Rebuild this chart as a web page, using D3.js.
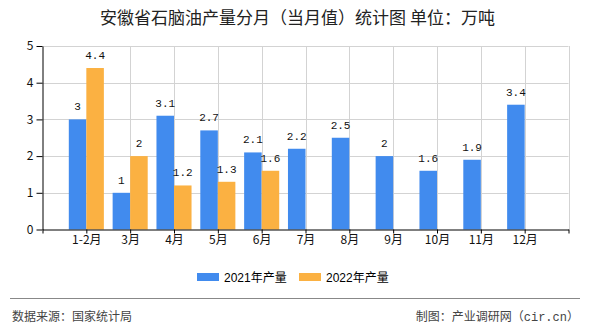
<!DOCTYPE html>
<html><head><meta charset="utf-8">
<script src="https://cdn.jsdelivr.net/npm/d3@7"></script>
<style>
body{margin:0;background:#fff;}
svg{display:block;}
</style></head>
<body>
<svg id="c" width="590" height="330"></svg>
<script>
const title = "安徽省石脑油产量分月（当月值）统计图 单位：万吨";
const categories = ["1-2月","3月","4月","5月","6月","7月","8月","9月","10月","11月","12月"];
const values2021 = [3,1,3.1,2.7,2.1,2.2,2.5,2,1.6,1.9,3.4];
const values2022 = [4.4,2,1.2,1.3,1.6];
const yTicks = [0,1,2,3,4,5];
const seriesNames = ["2021年产量","2022年产量"];
const seriesColors = ["#418bee","#fbb142"];
const sourceText = "数据来源：国家统计局";
const creditParts = ["制图：产业调研网（", "cir.cn", "）"];

(function(){
const svg = d3.select("#c");
const pl = 42.5, pr = 568.5, pt = 46, pb = 229.5;
const x = d3.scaleLinear().domain([0, categories.length + 1]).range([pl, pr]);
const y = d3.scaleLinear().domain([0, 5]).range([pb, pt]);
const bw = (x(1) - x(0)) * 0.4;
const monoFont = "'Liberation Mono','DejaVu Sans Mono',monospace";
const cjkFont = "'Noto Sans CJK SC','Noto Sans',sans-serif";

svg.append("text").attr("x", 297.5).attr("y", 23.5).attr("text-anchor","middle")
  .attr("font-family", cjkFont).attr("font-size", 17).attr("fill","#222").text(title);

// grid
const g = svg.append("g");
g.selectAll("line.h").data(yTicks.filter(v => v > 0)).join("line")
  .attr("x1", pl).attr("x2", pr).attr("y1", d => Math.round(y(d))+0.5).attr("y2", d => Math.round(y(d))+0.5)
  .attr("stroke","#d3d3d3").attr("stroke-width",1);
g.selectAll("line.v").data(d3.range(2, categories.length + 2)).join("line")
  .attr("x1", d => Math.round(x(d))+0.5).attr("x2", d => Math.round(x(d))+0.5).attr("y1", pt).attr("y2", pb)
  .attr("stroke","#d3d3d3").attr("stroke-width",1);

// bars
const bars = svg.append("g");
bars.selectAll("rect.a").data(values2021).join("rect")
  .attr("x", (d,i) => x(i+1) - bw).attr("width", bw)
  .attr("y", d => y(d)).attr("height", d => y(0) - y(d)).attr("fill", seriesColors[0]);
bars.selectAll("rect.b").data(values2022).join("rect")
  .attr("x", (d,i) => x(i+1)).attr("width", bw)
  .attr("y", d => y(d)).attr("height", d => y(0) - y(d)).attr("fill", seriesColors[1]);

// labels
const lab = svg.append("g").attr("font-family", monoFont).attr("font-size", 11).attr("fill","#111").attr("text-anchor","middle");
lab.selectAll("text.a").data(values2021).join("text")
  .attr("x", (d,i) => x(i+1) - bw/2).attr("y", d => y(d) - 9).text(d => d);
lab.selectAll("text.b").data(values2022).join("text")
  .attr("x", (d,i) => x(i+1) + bw/2).attr("y", d => y(d) - 9).text(d => d);

// axes
const xAxis = d3.axisBottom(x).tickValues(d3.range(0, categories.length + 2))
  .tickFormat(i => categories[i-1] || "").tickSize(4).tickSizeOuter(0);
const xa = svg.append("g").attr("transform", `translate(0,${pb})`).call(xAxis);
xa.select(".domain").attr("stroke","#000");
xa.selectAll(".tick line").attr("stroke","#000");
xa.selectAll(".tick text").attr("font-family", cjkFont).attr("font-size", 12).attr("fill","#111").attr("dy","0.6em");

const yAxis = d3.axisLeft(y).tickValues(yTicks).tickFormat(d3.format("d")).tickSize(6).tickSizeOuter(0);
const ya = svg.append("g").attr("transform", `translate(${pl},0)`).call(yAxis);
ya.select(".domain").attr("stroke","#000");
ya.selectAll(".tick line").attr("stroke","#000");
ya.selectAll(".tick text").attr("font-family", cjkFont).attr("font-size", 12).attr("fill","#111").attr("x",-9);

// legend
const legX = [197, 299];
const leg = svg.append("g");
seriesNames.forEach((n, i) => {
  leg.append("rect").attr("x", legX[i]).attr("y", 273).attr("width", 22).attr("height", 8).attr("fill", seriesColors[i]);
  leg.append("text").attr("x", legX[i] + 27).attr("y", 281.5).attr("font-family","'Liberation Sans',Arial,'Noto Sans CJK SC',sans-serif")
    .attr("font-size", 12).attr("fill","#000").text(n);
});

// footer
svg.append("line").attr("x1",10).attr("x2",580).attr("y1",298.5).attr("y2",298.5).attr("stroke","#888").attr("stroke-width",1);
svg.append("text").attr("x",12).attr("y",321).attr("font-family",cjkFont).attr("font-size",12).attr("fill","#444").text(sourceText);
const cr = svg.append("text").attr("x",579).attr("y",321).attr("text-anchor","end").attr("font-family",cjkFont).attr("font-size",12).attr("fill","#444");
cr.append("tspan").text(creditParts[0]);
cr.append("tspan").attr("font-family", monoFont).text(creditParts[1]);
cr.append("tspan").text(creditParts[2]);
})();
</script>
</body></html>
